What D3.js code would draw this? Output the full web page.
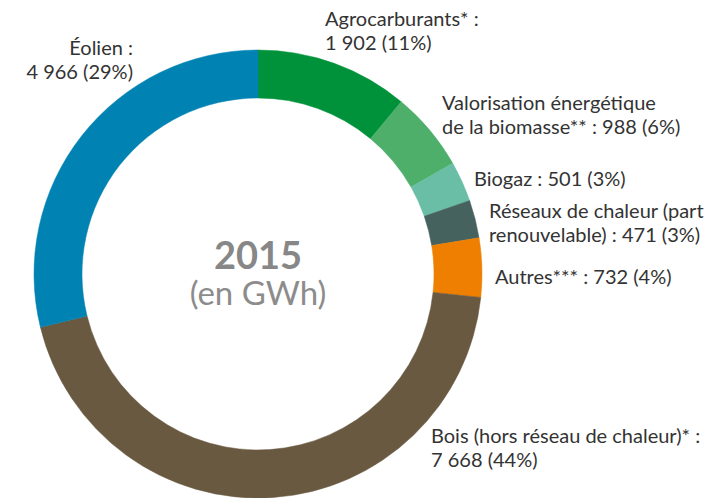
<!DOCTYPE html>
<html>
<head>
<meta charset="utf-8">
<script src="https://cdn.jsdelivr.net/npm/d3@7"></script>
<style>
  body { margin: 0; background: #fff; }
  text { font-family: Lato, "Open Sans", sans-serif; }
</style>
</head>
<body>
<svg id="chart" width="719" height="498"></svg>
<script>
// Data (GWh, 2015), clockwise from 12 o'clock
var categories = ["Agrocarburants", "Valorisation", "Biogaz", "Reseaux", "Autres", "Bois", "Eolien"];
var values = [1902, 988, 501, 471, 732, 7668, 4966];
var percents = [11, 6, 3, 3, 4, 44, 29];
// label lines, "{v}" is replaced by value + percent
var labelLines = [
  ["Agrocarburants* :", "{v}"],
  ["Valorisation énergétique", "de la biomasse** : {v}"],
  ["Biogaz : {v}"],
  ["Réseaux de chaleur (part", "renouvelable) : {v}"],
  ["Autres*** : {v}"],
  ["Bois (hors réseau de chaleur)* :", "{v}"],
  ["Éolien :", "{v}"]
];
var colors = ["#00923a", "#4daf6a", "#6bbea6", "#46625e", "#ee7f00", "#695941", "#0083b3"];

// label anchors (x, first baseline, anchor)
var labelPos = [
  [325, 26, "start"],
  [442, 110, "start"],
  [474, 186, "start"],
  [489, 218, "start"],
  [495, 284, "start"],
  [431, 443, "start"],
  [133, 55, "end"]
];

var cx = 258, cy = 274, rOuter = 224, rInner = 176;

var svg = d3.select("#chart");
var g = svg.append("g").attr("transform", "translate(" + cx + "," + cy + ")");

var fmt = d3.formatLocale({ thousands: " ", grouping: [3], decimal: ",", currency: ["", " €"] }).format(",d");

var pie = d3.pie().sort(null).value(function(d) { return d; });
var arc = d3.arc().innerRadius(rInner).outerRadius(rOuter);

g.selectAll("path")
  .data(pie(values))
  .enter()
  .append("path")
  .attr("d", arc)
  .attr("fill", function(d, i) { return colors[i]; })
  .attr("stroke", function(d, i) { return colors[i]; })
  .attr("stroke-width", 0.5);

// center text
g.append("text")
  .attr("text-anchor", "middle")
  .attr("y", -5)
  .attr("fill", "#878787")
  .style("font-size", "38px")
  .style("font-weight", "bold")
  .text("2015");
g.append("text")
  .attr("text-anchor", "middle")
  .attr("y", 31)
  .attr("fill", "#8c8c8c")
  .style("font-size", "33px")
  .text("(en GWh)");

// labels
var labels = svg.selectAll(".label")
  .data(categories)
  .enter()
  .append("text")
  .attr("class", "label")
  .attr("fill", "#333")
  .style("font-size", "20px")
  .attr("text-anchor", function(d, i) { return labelPos[i][2]; });

labels.each(function(d, i) {
  var t = d3.select(this);
  var v = fmt(values[i]) + " (" + percents[i] + "%)";
  labelLines[i].forEach(function(line, j) {
    t.append("tspan")
      .attr("x", labelPos[i][0])
      .attr("y", labelPos[i][1] + j * 24)
      .text(line.replace("{v}", v));
  });
});
</script>
</body>
</html>
